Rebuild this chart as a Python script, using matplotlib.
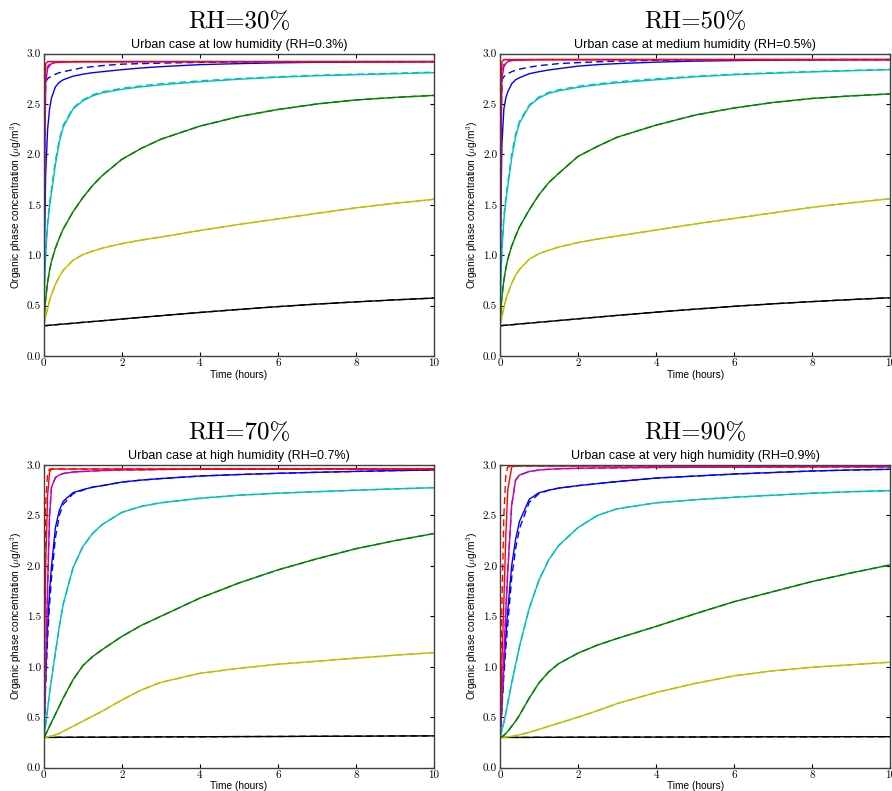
import numpy as np
import matplotlib.pyplot as plt

plt.rcParams['font.family'] = ['Liberation Sans', 'DejaVu Sans']
plt.rcParams['mathtext.fontset'] = 'cm'

# time axis (hours) shared by every curve
t_hours = [0, 0.025, 0.05, 0.1, 0.15, 0.2, 0.3, 0.4, 0.5, 0.75, 1, 1.25, 1.5, 2, 2.5, 3, 4, 5, 6, 7, 8, 9, 10]

# RH=30%
black30 = [0.30, 0.301, 0.302, 0.303, 0.305, 0.307, 0.31, 0.314, 0.317, 0.325, 0.334, 0.342, 0.35, 0.367, 0.384, 0.40, 0.432, 0.462, 0.49, 0.515, 0.537, 0.557, 0.575]
yellow30 = [0.30, 0.34, 0.39, 0.47, 0.55, 0.61, 0.71, 0.79, 0.85, 0.95, 1.005, 1.04, 1.07, 1.115, 1.15, 1.18, 1.245, 1.305, 1.36, 1.415, 1.47, 1.515, 1.555]
green30 = [0.30, 0.45, 0.57, 0.73, 0.85, 0.94, 1.07, 1.17, 1.26, 1.43, 1.57, 1.69, 1.79, 1.95, 2.06, 2.15, 2.28, 2.375, 2.445, 2.50, 2.54, 2.565, 2.585]
cyan30 = [0.30, 0.75, 1.00, 1.30, 1.48, 1.62, 1.90, 2.12, 2.27, 2.45, 2.53, 2.58, 2.61, 2.645, 2.67, 2.69, 2.72, 2.745, 2.765, 2.78, 2.79, 2.80, 2.81]
cyan30_dash = [0.30, 0.78, 1.03, 1.34, 1.52, 1.66, 1.94, 2.15, 2.29, 2.46, 2.54, 2.59, 2.62, 2.655, 2.68, 2.70, 2.73, 2.752, 2.77, 2.785, 2.795, 2.805, 2.815]
blue30 = [0.30, 1.20, 1.80, 2.25, 2.45, 2.56, 2.67, 2.715, 2.74, 2.775, 2.795, 2.81, 2.82, 2.84, 2.857, 2.87, 2.89, 2.90, 2.908, 2.913, 2.916, 2.918, 2.92]
blue30_dash = [0.30, 2.40, 2.72, 2.75, 2.765, 2.775, 2.795, 2.81, 2.82, 2.84, 2.86, 2.87, 2.88, 2.895, 2.90, 2.905, 2.912, 2.916, 2.918, 2.919, 2.92, 2.92, 2.92]
magenta30 = [0.30, 1.80, 2.70, 2.85, 2.88, 2.90, 2.91, 2.913, 2.915, 2.918] + [2.92] * 13
magenta30_dash = [0.30, 2.00, 2.75, 2.87, 2.895, 2.905, 2.913, 2.916, 2.917] + [2.92] * 14
red30 = [0.30, 2.60, 2.90] + [2.92] * 20
red30_dash = [0.30, 2.70, 2.91] + [2.92] * 20

# RH=50%
black50 = [0.30, 0.301, 0.302, 0.304, 0.305, 0.307, 0.31, 0.314, 0.318, 0.326, 0.335, 0.343, 0.352, 0.369, 0.386, 0.403, 0.435, 0.465, 0.493, 0.518, 0.54, 0.56, 0.578]
yellow50 = [0.30, 0.34, 0.39, 0.48, 0.56, 0.62, 0.72, 0.80, 0.86, 0.96, 1.015, 1.05, 1.08, 1.125, 1.16, 1.19, 1.25, 1.31, 1.365, 1.42, 1.475, 1.52, 1.56]
green50 = [0.30, 0.46, 0.59, 0.75, 0.87, 0.96, 1.09, 1.19, 1.28, 1.45, 1.60, 1.72, 1.81, 1.98, 2.08, 2.17, 2.29, 2.39, 2.46, 2.515, 2.555, 2.58, 2.60]
cyan50 = [0.30, 0.78, 1.05, 1.35, 1.53, 1.68, 1.96, 2.17, 2.31, 2.48, 2.56, 2.605, 2.63, 2.665, 2.69, 2.71, 2.74, 2.77, 2.79, 2.805, 2.818, 2.83, 2.84]
cyan50_dash = [0.30, 0.80, 1.08, 1.39, 1.57, 1.72, 2.00, 2.20, 2.33, 2.49, 2.57, 2.615, 2.64, 2.675, 2.70, 2.72, 2.75, 2.775, 2.795, 2.81, 2.822, 2.833, 2.843]
blue50 = [0.30, 1.50, 2.10, 2.45, 2.56, 2.62, 2.70, 2.74, 2.76, 2.80, 2.82, 2.837, 2.85, 2.875, 2.89, 2.90, 2.915, 2.925, 2.93, 2.935, 2.938, 2.94, 2.94]
blue50_dash = [0.30, 2.30, 2.74, 2.77, 2.787, 2.80, 2.82, 2.835, 2.845, 2.865, 2.88, 2.89, 2.90, 2.91, 2.918, 2.925, 2.933, 2.937, 2.94, 2.94, 2.94, 2.94, 2.94]
magenta50 = [0.30, 2.00, 2.75, 2.87, 2.90, 2.92, 2.93, 2.933, 2.935, 2.938] + [2.94] * 13
magenta50_dash = [0.30, 2.20, 2.80, 2.89, 2.91, 2.925, 2.933, 2.935, 2.937] + [2.94] * 14
red50 = [0.30, 2.70, 2.92] + [2.94] * 20
red50_dash = [0.30, 2.78, 2.93] + [2.94] * 20

# RH=70%
black70 = [0.30, 0.30, 0.30, 0.30, 0.30, 0.30, 0.30, 0.301, 0.301, 0.301, 0.302, 0.302, 0.302, 0.303, 0.304, 0.305, 0.306, 0.308, 0.309, 0.311, 0.312, 0.314, 0.315]
yellow70 = [0.30, 0.301, 0.302, 0.305, 0.31, 0.315, 0.325, 0.34, 0.36, 0.41, 0.46, 0.51, 0.56, 0.67, 0.77, 0.845, 0.935, 0.985, 1.025, 1.055, 1.085, 1.115, 1.14]
green70 = [0.30, 0.31, 0.33, 0.37, 0.41, 0.45, 0.53, 0.61, 0.69, 0.87, 1.01, 1.10, 1.17, 1.30, 1.41, 1.50, 1.68, 1.83, 1.96, 2.07, 2.17, 2.25, 2.32]
cyan70 = [0.30, 0.36, 0.43, 0.58, 0.74, 0.88, 1.14, 1.40, 1.62, 1.98, 2.19, 2.32, 2.41, 2.53, 2.59, 2.625, 2.67, 2.70, 2.72, 2.735, 2.75, 2.763, 2.775]
blue70 = [0.30, 0.58, 0.90, 1.40, 1.75, 2.00, 2.38, 2.55, 2.64, 2.725, 2.755, 2.78, 2.795, 2.83, 2.85, 2.865, 2.89, 2.905, 2.917, 2.927, 2.936, 2.944, 2.95]
blue70_dash = [0.30, 0.52, 0.82, 1.28, 1.62, 1.88, 2.28, 2.50, 2.61, 2.715, 2.75, 2.78, 2.795, 2.83, 2.85, 2.865, 2.89, 2.905, 2.917, 2.927, 2.936, 2.944, 2.95]
magenta70 = [0.30, 0.60, 1.00, 1.80, 2.50, 2.78, 2.875, 2.90, 2.915, 2.93, 2.935, 2.94, 2.945, 2.95, 2.952, 2.955, 2.958, 2.96, 2.96, 2.96, 2.96, 2.96, 2.96]
red70 = [0.30, 1.20, 2.00, 2.70, 2.93] + [2.96] * 18
red70_dash = [0.30, 1.80, 2.60, 2.92] + [2.96] * 19

# RH=90%
black90 = [0.30, 0.30, 0.30, 0.30, 0.30, 0.30, 0.30, 0.30, 0.30, 0.30, 0.301, 0.301, 0.301, 0.302, 0.302, 0.303, 0.303, 0.304, 0.305, 0.306, 0.306, 0.307, 0.307]
yellow90 = [0.30, 0.30, 0.301, 0.302, 0.303, 0.305, 0.31, 0.318, 0.325, 0.35, 0.38, 0.41, 0.44, 0.50, 0.565, 0.635, 0.745, 0.835, 0.91, 0.96, 0.995, 1.02, 1.045]
green90 = [0.30, 0.302, 0.307, 0.32, 0.34, 0.36, 0.41, 0.46, 0.52, 0.69, 0.84, 0.95, 1.03, 1.135, 1.215, 1.28, 1.40, 1.525, 1.645, 1.745, 1.845, 1.93, 2.01]
cyan90 = [0.30, 0.33, 0.37, 0.45, 0.54, 0.64, 0.84, 1.02, 1.20, 1.58, 1.86, 2.06, 2.20, 2.38, 2.50, 2.565, 2.625, 2.655, 2.68, 2.70, 2.72, 2.735, 2.745]
blue90 = [0.30, 0.45, 0.62, 1.00, 1.30, 1.56, 2.00, 2.26, 2.44, 2.66, 2.725, 2.75, 2.77, 2.795, 2.815, 2.835, 2.87, 2.89, 2.91, 2.925, 2.94, 2.95, 2.957]
blue90_dash = [0.30, 0.42, 0.58, 0.92, 1.18, 1.42, 1.88, 2.17, 2.37, 2.63, 2.715, 2.75, 2.77, 2.795, 2.815, 2.835, 2.87, 2.89, 2.91, 2.925, 2.94, 2.95, 2.957]
magenta90 = [0.30, 0.45, 0.65, 1.10, 1.55, 1.95, 2.60, 2.85, 2.90, 2.935, 2.95, 2.957, 2.962, 2.967, 2.97, 2.972, 2.975, 2.977, 2.978, 2.979, 2.98, 2.98, 2.98]
red90 = [0.30, 0.70, 1.05, 1.65, 2.30, 2.75, 2.98] + [2.99] * 16
red90_dash = [0.30, 1.00, 1.60, 2.50, 2.90, 2.98] + [2.99] * 17

big_titles = ['RH=30%', 'RH=50%', 'RH=70%', 'RH=90%']
sub_titles = ['Urban case at low humidity (RH=0.3%)',
              'Urban case at medium humidity (RH=0.5%)',
              'Urban case at high humidity (RH=0.7%)',
              'Urban case at very high humidity (RH=0.9%)']

# (solid, dashed) per colour, drawn from bottom curve to top curve
panels = [
    [(black30, black30), (yellow30, yellow30), (green30, green30), (cyan30, cyan30_dash),
     (blue30, blue30_dash), (magenta30, magenta30_dash), (red30, red30_dash)],
    [(black50, black50), (yellow50, yellow50), (green50, green50), (cyan50, cyan50_dash),
     (blue50, blue50_dash), (magenta50, magenta50_dash), (red50, red50_dash)],
    [(black70, black70), (yellow70, yellow70), (green70, green70), (cyan70, cyan70),
     (blue70, blue70_dash), (magenta70, magenta70), (red70, red70_dash)],
    [(black90, black90), (yellow90, yellow90), (green90, green90), (cyan90, cyan90),
     (blue90, blue90_dash), (magenta90, magenta90), (red90, red90_dash)],
]
colors = ['k', (0.75, 0.75, 0), (0, 0.5, 0), (0, 0.75, 0.75), 'b', (0.75, 0, 0.75), 'r']

fig = plt.figure(figsize=(8.92, 7.91), dpi=100)
boxes = [[0.049, 0.5499, 0.4376, 0.3824],
         [0.5605, 0.5499, 0.4376, 0.3824],
         [0.049, 0.0295, 0.4376, 0.3827],
         [0.5605, 0.0295, 0.4376, 0.3827]]
title_y = [0.9725, 0.9725, 0.4528, 0.4528]

for i in range(4):
    ax = fig.add_axes(boxes[i])
    for (solid, dash), c in zip(panels[i], colors):
        ax.plot(t_hours, solid, color=c, lw=1.0)
        ax.plot(t_hours, dash, color=c, lw=1.0, ls=(0, (5, 3)))
    ax.set_xlim(0, 10)
    ax.set_ylim(0, 3)
    ax.set_xticks(np.arange(0, 11, 2))
    ax.set_yticks(np.arange(0, 3.01, 0.5))
    ax.set_yticklabels(['%.1f' % v for v in np.arange(0, 3.01, 0.5)])
    ax.tick_params(direction='in', top=True, right=True, length=3, width=0.8, pad=2, labelsize=8)
    for lab in ax.get_xticklabels() + ax.get_yticklabels():
        lab.set_fontfamily('cmr10')
    for s in ax.spines.values():
        s.set_color('0.25')
        s.set_linewidth(1.0)
    ax.set_xlabel('Time (hours)', fontsize=7.3, labelpad=1)
    ax.set_ylabel(r'Organic phase concentration ($\mu$g/m$^3$)', fontsize=7.3, labelpad=2)
    ax.set_title(sub_titles[i], fontsize=9, pad=4)
    xc = boxes[i][0] + boxes[i][2] / 2
    fig.text(xc, title_y[i], big_titles[i], fontfamily='cmr10', fontsize=18, ha='center', va='center')

fig.savefig('out.png', dpi=100)
